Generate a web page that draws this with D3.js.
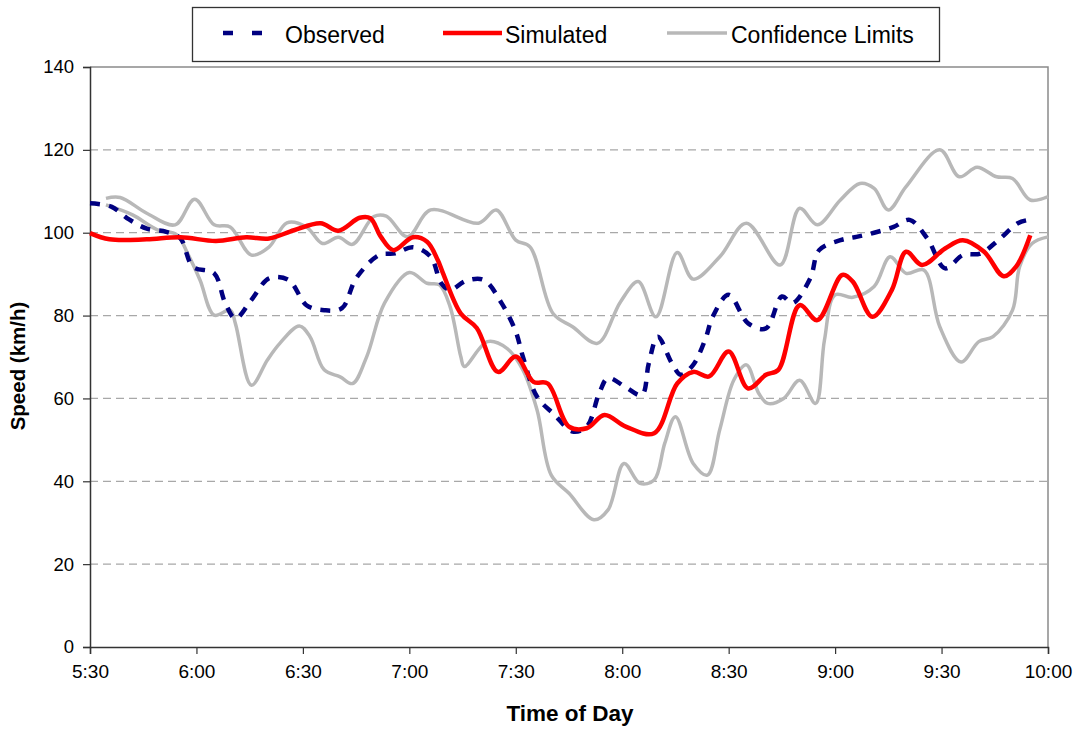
<!DOCTYPE html>
<html>
<head>
<meta charset="utf-8">
<script src="https://cdn.jsdelivr.net/npm/d3@7/dist/d3.min.js"></script>
<style>
  body { margin:0; background:#fff; }
  svg { font-family: "Liberation Sans", Arial, sans-serif; }
</style>
</head>
<body>
<svg id="chart" width="1079" height="729"></svg>
<script>
// minutes after 5:30, speed in km/h
const observed = [
  [0,107.1],[6,106.3],[11,103.2],[16,101],[21.5,100.2],[25.5,98.6],[29,91.8],[35,90.2],[38,83.3],[41,79.3],
  [45.5,83.8],[50.5,89],[56,88.6],[61,82.5],[66,81.3],[71,81.8],[75,89],[81.5,94.6],[86,95],[91,96.5],
  [96,94.2],[99,87.8],[101.5,86.2],[106,88.4],[111,88.6],[116,83],[120,76.1],[122,70.1],[126,60.4],[131,56],
  [136,52],[140,53.2],[143.5,61.2],[146,64.9],[151,62.7],[155.5,60.8],[157.5,68.5],[160,74.9],[164,68.5],[166.5,65.7],
  [170,68.1],[173.5,74.5],[175.5,79.7],[180,85],[185.5,78.1],[190.5,76.9],[195,84.6],[198,83],[203,89],[205.5,95.8],
  [211.5,98.2],[216,99],[221,100],[226.5,101.4],[231,103.1],[236,98.6],[241,91.4],[246,94.6],[251,95],[256,98.2],
  [261.5,102.3],[264,103]
]
const simulated = [
  [0,99.9],[5.5,98.4],[16,98.4],[25.5,98.9],[35.5,98],[44,98.9],[50.5,98.6],[57.5,100.6],[65,102.3],[70,100.5],
  [76,103.6],[79,103.5],[82,99],[85.5,95.8],[91,98.9],[95,97.8],[98,93.4],[99.5,90.2],[104.5,80.5],[109,77],
  [115,66.4],[120,70.1],[125,64],[129,63.6],[135,53.2],[140,52.8],[145,56],[151,53.2],[159,51.6],[165.5,63.6],
  [170,66.4],[174.5,65.3],[180,71.3],[185.5,62.4],[190.5,65.7],[194,66.9],[200,82.5],[205,78.9],[212,89.8],[215,88.2],
  [220.5,79.7],[226,86.2],[230,95.4],[234.5,92.2],[241,96.2],[246,98.2],[252,95.4],[257.5,89.5],[261,91.8],[265,99.4]
]
const upperCL = [
  [4.5,108.3],[8.5,108.5],[16,104.7],[24,101.9],[29.5,108.1],[35,101.9],[39.5,101.4],[45.5,94.6],[50.5,96.6],[55.5,102.4],
  [61,101.4],[65.5,97.4],[70,98.9],[74,97.2],[80,103.9],[83.5,104],[89.5,99],[96,105.5],[109.5,102.3],[114.5,105.5],
  [120,98.2],[124,96.6],[130.5,80.5],[136,77.3],[143,73.3],[149.5,83.3],[154.5,88.2],[159.5,79.7],[165.5,95.2],[170,88.8],
  [177.5,94.2],[185,102.3],[194.5,92.2],[200,105.9],[205,101.9],[211.5,107.9],[217,111.9],[221,110.7],[225,105.5],[230,111.1],
  [239.5,120],[245,113.5],[250,115.8],[255.5,113.5],[260,113.1],[265,107.9],[270,108.7]
]
const lowerCL = [
  [4.5,106.7],[12,104.3],[19,100.7],[24.5,99.5],[27.5,95],[31,88.6],[35,80.1],[39.5,81.3],[41,78],[45.5,63.2],
  [50,69.3],[53.5,73.3],[59,77.5],[62,74.9],[66,66.9],[70.5,65.2],[74,63.6],[78,70.1],[83,83],[90,90.4],
  [95,87.8],[98.5,87.4],[101.5,82.1],[104.5,70.1],[105.5,67.7],[112,73.7],[117.5,72.1],[122,66.9],[126,57.2],[130,41.5],
  [135,37.1],[142,30.7],[146,33.1],[150.5,44.3],[155,39.5],[159,40.3],[162,49.2],[165,55.6],[170,44.3],[174,41.5],
  [177.5,52.5],[181.5,64.5],[185,68.1],[188.5,61.2],[191,58.8],[195.5,60],[200,64.4],[204.5,58.8],[207,74.1],[210,85],
  [215,84.4],[221,87],[225.5,94.2],[230,90.2],[235,91],[239.5,77.3],[245.5,68.8],[250.5,73.7],[254.5,74.9],[260,81.3],
  [262,91.8],[265.5,97.4],[270,99]
]
const xTickLabels = ["5:30","6:00","6:30","7:00","7:30","8:00","8:30","9:00","9:30","10:00"]
const yTicks = [0,20,40,60,80,100,120,140]

const svg = d3.select("#chart")
const pLeft = 90, pRight = 1048, pTop = 67, pBottom = 647

let x = d3.scaleLinear().domain([0,270]).range([pLeft,pRight])
let y = d3.scaleLinear().domain([0,140]).range([pBottom,pTop])

// gridlines
svg.append("g").selectAll("line")
  .data(yTicks.filter(d=>d>0 && d<140))
  .join("line")
    .attr("x1",pLeft).attr("x2",pRight)
    .attr("y1",d=>y(d)).attr("y2",d=>y(d))
    .attr("stroke","#a8a8a8").attr("stroke-width",1.3)
    .attr("stroke-dasharray","8,5")

// top / right border
svg.append("path")
  .attr("d",`M${pLeft},${pTop}H${pRight}V${pBottom}`)
  .attr("fill","none").attr("stroke","#8a8a8a").attr("stroke-width",1.5)

// y axis
let yAxis = d3.axisLeft(y).tickValues(yTicks).tickSize(7).tickPadding(9)
let gy = svg.append("g").attr("transform",`translate(${pLeft},0)`).call(yAxis)
gy.select(".domain").attr("stroke","#333").attr("stroke-width",1.5)
gy.selectAll(".tick line").attr("stroke","#333").attr("stroke-width",1.2)
gy.selectAll("text").attr("font-size","18.5px").attr("fill","#000")
  .attr("font-family","'Liberation Sans', Arial, sans-serif")

// x axis
let xAxis = d3.axisBottom(x).tickValues(d3.range(0,271,30))
  .tickFormat((d,i)=>xTickLabels[i]).tickSize(7).tickPadding(11)
let gx = svg.append("g").attr("transform",`translate(0,${pBottom})`).call(xAxis)
gx.select(".domain").attr("stroke","#333").attr("stroke-width",1.5)
gx.selectAll(".tick line").attr("stroke","#333").attr("stroke-width",1.2)
gx.selectAll("text").attr("font-size","19px").attr("fill","#000")
  .attr("font-family","'Liberation Sans', Arial, sans-serif")

// axis titles
svg.append("text")
  .attr("x",(pLeft+pRight)/2 + 1).attr("y",721)
  .attr("text-anchor","middle").attr("font-weight","bold").attr("font-size","22.5px")
  .text("Time of Day")
svg.append("text")
  .attr("transform",`translate(25,${(pTop+pBottom)/2 + 9}) rotate(-90)`)
  .attr("text-anchor","middle").attr("font-weight","bold").attr("font-size","20.5px")
  .text("Speed (km/h)")

// series
let line = d3.line()
  .x(d=>x(d[0])).y(d=>y(d[1]))
  .curve(d3.curveCatmullRom.alpha(0.5))

let plot = svg.append("g")
plot.append("path").datum(upperCL).attr("d",line)
  .attr("fill","none").attr("stroke","#b8b8b8").attr("stroke-width",3.5)
plot.append("path").datum(lowerCL).attr("d",line)
  .attr("fill","none").attr("stroke","#b8b8b8").attr("stroke-width",3.5)
plot.append("path").datum(observed).attr("d",line)
  .attr("fill","none").attr("stroke","#000080").attr("stroke-width",4.5)
  .attr("stroke-dasharray","10,9")
plot.append("path").datum(simulated).attr("d",line)
  .attr("fill","none").attr("stroke","#ff0000").attr("stroke-width",4.5)

// legend
let lg = svg.append("g")
lg.append("rect").attr("x",192.5).attr("y",7.5).attr("width",747).attr("height",54)
  .attr("fill","#fff").attr("stroke","#333").attr("stroke-width",1.3)
let legendItems = [
  {name:"Observed", color:"#000080", width:4.5, dash:"10,19", x1:223, x2:263, tx:285},
  {name:"Simulated", color:"#ff0000", width:4.5, dash:null, x1:443, x2:502, tx:505},
  {name:"Confidence Limits", color:"#b8b8b8", width:3.5, dash:null, x1:667, x2:727, tx:731}
]
legendItems.forEach(d=>{
  lg.append("line").attr("x1",d.x1).attr("x2",d.x2).attr("y1",33).attr("y2",33)
    .attr("stroke",d.color).attr("stroke-width",d.width)
    .attr("stroke-dasharray",d.dash)
  lg.append("text").attr("x",d.tx).attr("y",42.5)
    .attr("font-size","23px").text(d.name)
})
</script>
</body>
</html>
